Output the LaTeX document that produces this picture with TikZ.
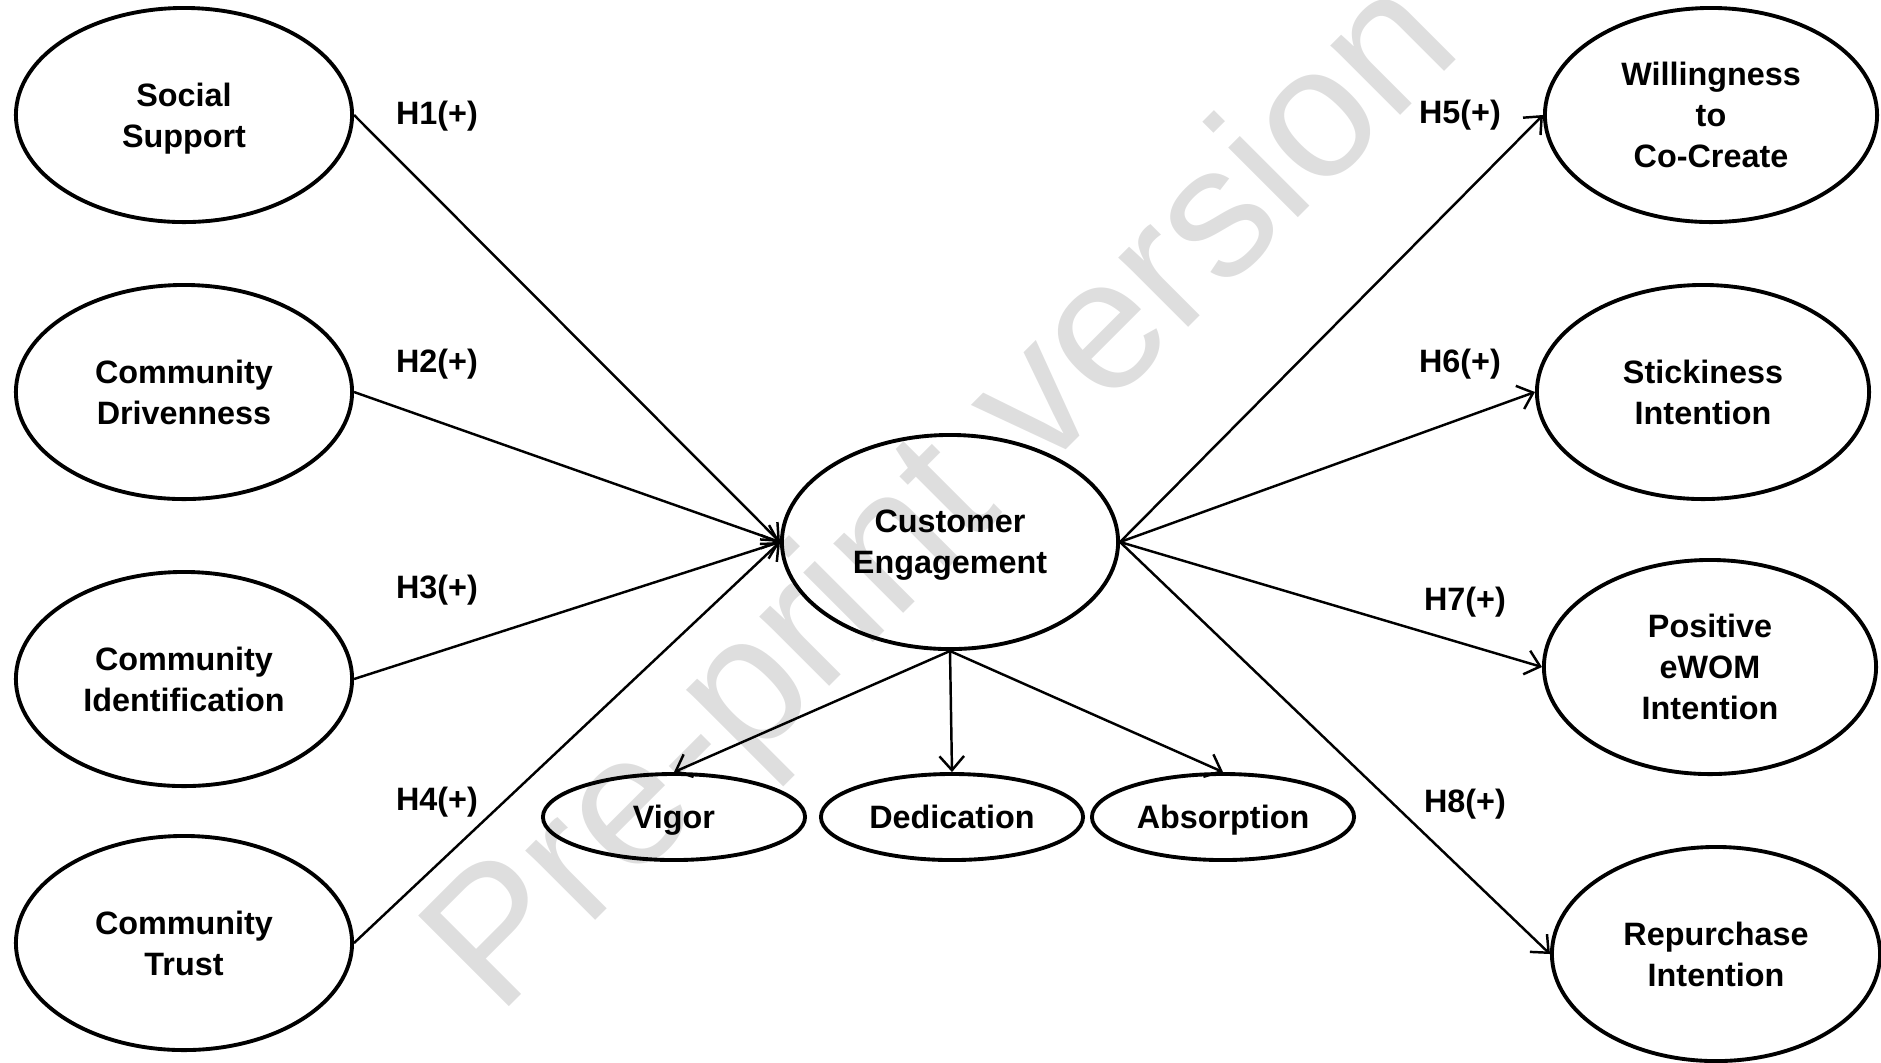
\documentclass[tikz,border=0pt]{standalone}
\usepackage{fontspec}
\setmainfont{Liberation Sans}
\usetikzlibrary{arrows.meta, shapes.geometric}

\begin{document}
\begin{tikzpicture}[x=0.01cm, y=-0.01cm,
  latent/.style={draw, line width=1.1pt, ellipse, inner sep=0pt,
    minimum width=3.36cm, minimum height=2.14cm, align=center, text depth=0pt,
    font=\fontsize{9.2}{11.7}\selectfont\bfseries},
  facet/.style={latent, minimum width=2.62cm, minimum height=0.86cm},
  hyp/.style={font=\fontsize{9.2}{11.7}\selectfont\bfseries},
  link/.style={-{Straight Barb[length=4pt, width=7pt]}, line width=0.7pt}]
  \useasboundingbox (0,0) rectangle (1881,1062);

  % Watermark in the background
  \node[rotate=45, text=black!13, font=\fontsize{53}{53}\selectfont]
    (wm) at (948,500) {Pre-print version};

  % Antecedents
  \node[latent] (ss) at (184,115) {Social\\Support};
  \node[latent] (cd) at (184,392) {Community\\Drivenness};
  \node[latent] (ci) at (184,679) {Community\\Identification};
  \node[latent] (ct) at (184,943) {Community\\Trust};

  % Customer engagement and its dimensions
  \node[latent] (ce) at (950,542) {Customer\\Engagement};
  \node[facet] (vi) at (674,817) {Vigor};
  \node[facet] (de) at (952,817) {Dedication};
  \node[facet] (ab) at (1223,817) {Absorption};

  % Outcomes
  \node[latent, minimum width=3.32cm] (wc) at (1711,115) {Willingness\\to\\Co-Create};
  \node[latent, minimum width=3.32cm] (si) at (1703,392) {Stickiness\\Intention};
  \node[latent, minimum width=3.32cm] (pe) at (1710,667) {Positive\\eWOM\\Intention};
  \node[latent, minimum width=3.28cm] (ri) at (1716,954) {Repurchase\\Intention};

  % Hypothesised paths
  \draw[link] (ss.east) -- (ce.west);
  \draw[link] (cd.east) -- (ce.west);
  \draw[link] (ci.east) -- (ce.west);
  \draw[link] (ct.east) -- (ce.west);
  \draw[link] (ce.east) -- (wc.west);
  \draw[link] (ce.east) -- (si.west);
  \draw[link] (ce.east) -- (pe.west);
  \draw[link] (ce.east) -- (ri.west);

  \draw[link] (ce.south) -- (vi.north);
  \draw[link] (ce.south) -- (de.north);
  \draw[link] (ce.south) -- (ab.north);

  % Labels
  \node[hyp] (h1) at (437,116) {H1(+)};
  \node[hyp] (h2) at (437,364) {H2(+)};
  \node[hyp] (h3) at (437,590) {H3(+)};
  \node[hyp] (h4) at (437,802) {H4(+)};
  \node[hyp] (h5) at (1460,115) {H5(+)};
  \node[hyp] (h6) at (1460,364) {H6(+)};
  \node[hyp] (h7) at (1465,602) {H7(+)};
  \node[hyp] (h8) at (1465,804) {H8(+)};
\end{tikzpicture}
\end{document}
